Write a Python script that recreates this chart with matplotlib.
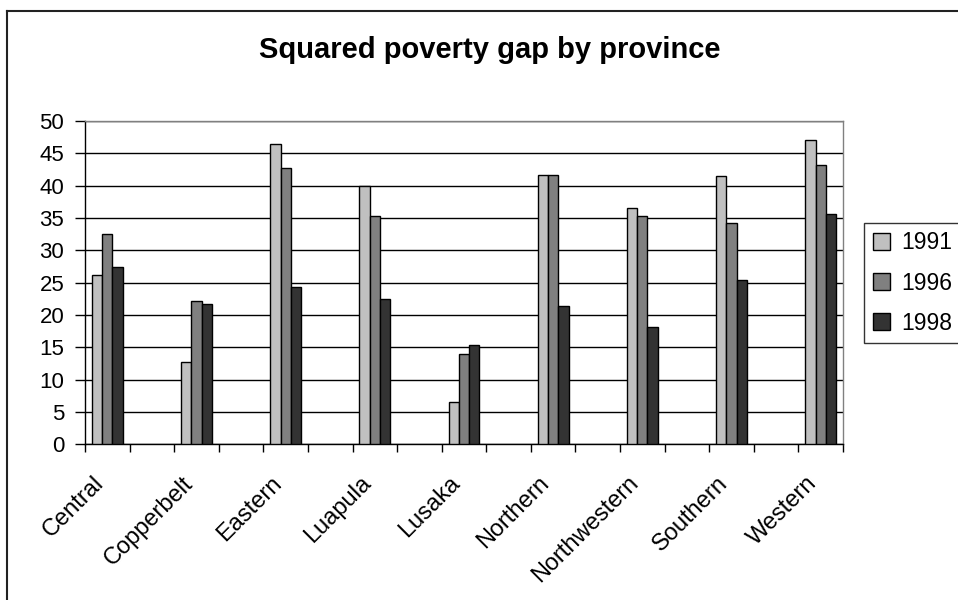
import numpy as np
import matplotlib
matplotlib.use("Agg")
import matplotlib.pyplot as plt
from matplotlib.lines import Line2D
from matplotlib.transforms import ScaledTranslation

plt.rcParams['font.family'] = ['Liberation Sans', 'DejaVu Sans']

# Squared poverty gap values
provinces = ['Central', 'Copperbelt', 'Eastern', 'Luapula', 'Lusaka',
             'Northern', 'Northwestern', 'Southern', 'Western']
years = ['1991', '1996', '1998']
gap_1991 = [26.2, 12.8, 46.4, 40.0, 6.6, 41.7, 36.5, 41.5, 47.0]
gap_1996 = [32.6, 22.2, 42.7, 35.3, 14.0, 41.7, 35.3, 34.3, 43.2]
gap_1998 = [27.4, 21.7, 24.4, 22.5, 15.3, 21.4, 18.2, 25.4, 35.6]
colors = ['#c0c0c0', '#808080', '#333333']

fig = plt.figure(figsize=(9.58, 6.0), dpi=100)
ax = fig.add_axes([85 / 958, 1 - 444.3 / 600, (843 - 85) / 958, (444.3 - 121) / 600])

# the source sheet has an empty column between provinces -> 17 slots
n_slots = 2 * len(provinces) - 1
x = np.arange(len(provinces)) * 2
w = 0.23
series = [gap_1991, gap_1996, gap_1998]
for k, (vals, col, yr) in enumerate(zip(series, colors, years)):
    ax.bar(x + (k - 1) * w, vals, width=w, color=col, edgecolor='black',
           linewidth=1.0, label=yr, zorder=3)

ax.set_xlim(-0.5, n_slots - 0.5)
ax.set_ylim(0, 50)
ax.set_yticks(np.arange(0, 51, 5))
ax.yaxis.grid(True, color='black', linewidth=1.0, zorder=0)
ax.set_axisbelow(True)

ax.set_xticks(x)
ax.set_xticklabels(provinces, rotation=45, ha='right', va='top',
                   rotation_mode='anchor', fontsize=17)
ax.set_xticks(np.arange(n_slots + 1) - 0.5, minor=True)
ax.tick_params(axis='x', which='major', length=0, pad=0)
ax.tick_params(axis='x', which='minor', length=6, width=1.0, color='black',
               direction='out')
ax.tick_params(axis='y', length=7, width=1.0, labelsize=16, pad=8)

# shift the rotated labels the way Excel places them
shift = ScaledTranslation(-15 / 100, -28 / 100, fig.dpi_scale_trans)
for lbl in ax.get_xticklabels():
    lbl.set_transform(lbl.get_transform() + shift)

for s in ['top', 'right']:
    ax.spines[s].set_color('#808080')
    ax.spines[s].set_linewidth(1.0)
for s in ['left', 'bottom']:
    ax.spines[s].set_color('black')
    ax.spines[s].set_linewidth(1.0)

fig.text(0.511, 1 - 50.5 / 600, 'Squared poverty gap by province',
         ha='center', va='center', fontsize=21, fontweight='bold')

leg = fig.legend(loc='upper left', bbox_to_anchor=(864 / 958, 1 - 222.7 / 600),
                 fontsize=16.5, frameon=True, fancybox=False, borderaxespad=0,
                 handlelength=0.75, handleheight=0.75, handletextpad=0.5,
                 labelspacing=0.75, borderpad=0.38)
leg.get_frame().set_edgecolor('black')
leg.get_frame().set_linewidth(1.0)

# outer chart-area frame (left and top edges visible)
fig.add_artist(Line2D([7 / 958, 7 / 958], [0, 1 - 10.7 / 600],
                      transform=fig.transFigure, color='#222222', linewidth=1.5))
fig.add_artist(Line2D([7 / 958, 1], [1 - 10.7 / 600, 1 - 10.7 / 600],
                      transform=fig.transFigure, color='#222222', linewidth=1.5))

fig.savefig('out.png', dpi=100)
plt.close(fig)
